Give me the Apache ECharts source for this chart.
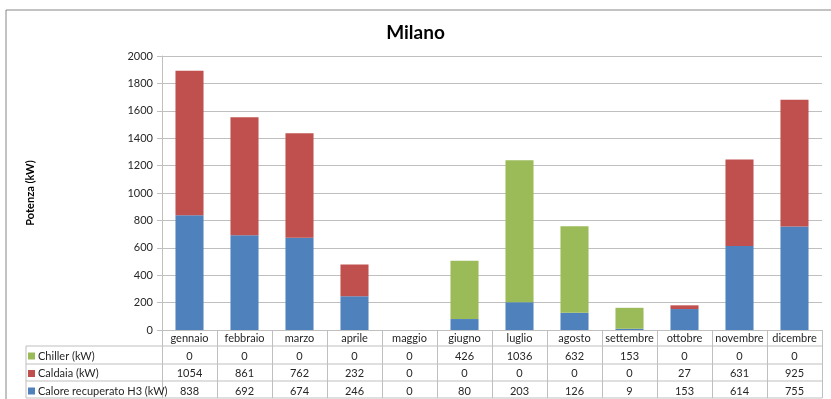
<!DOCTYPE html>
<html>
<head>
<meta charset="utf-8">
<script src="https://cdn.jsdelivr.net/npm/echarts@6/dist/echarts.min.js"></script>
<style>
  html, body { margin: 0; padding: 0; background: #fff; }
  #chart { width: 831px; height: 399px; }
</style>
</head>
<body>
<div id="chart"></div>
<script>
// Monthly power demand for Milano, stacked by source
const months = ['gennaio', 'febbraio', 'marzo', 'aprile', 'maggio', 'giugno',
                'luglio', 'agosto', 'settembre', 'ottobre', 'novembre', 'dicembre'];
const seriesNames = ['Chiller (kW)', 'Caldaia (kW)', 'Calore recuperato H3 (kW)'];
const chiller = [0, 0, 0, 0, 0, 426, 1036, 632, 153, 0, 0, 0];
const caldaia = [1054, 861, 762, 232, 0, 0, 0, 0, 0, 27, 631, 925];
const calore = [838, 692, 674, 246, 0, 80, 203, 126, 9, 153, 614, 755];
const yTicks = [0, 200, 400, 600, 800, 1000, 1200, 1400, 1600, 1800, 2000];

const FONT = 'Lato, "Open Sans", sans-serif';
const GRID = { left: 162, right: 9, top: 56, bottom: 69 };
const LINE = '#bfbfbf';
const TEXT = '#262626';
const colors = { chiller: '#9bbb59', caldaia: '#c0504d', calore: '#4f81bd' };

// Table rows below the axis: one hidden-line category axis per row
const tableRows = [chiller, caldaia, calore];
const rowOffsets = [18, 35, 53];

const xAxes = [{
  type: 'category',
  data: months,
  position: 'bottom',
  axisLine: { lineStyle: { color: LINE } },
  axisTick: { show: true, length: 68, interval: 0, lineStyle: { color: LINE } },
  axisLabel: { color: TEXT, fontFamily: FONT, fontSize: 11, margin: 3, interval: 0 }
}];
tableRows.forEach((row, i) => {
  xAxes.push({
    type: 'category',
    data: row.map(String),
    position: 'bottom',
    offset: rowOffsets[i],
    axisLine: { show: false },
    axisTick: { show: false },
    axisLabel: { color: TEXT, fontFamily: FONT, fontSize: 11, margin: 3, interval: 0 }
  });
});

// Horizontal rules of the data table and its label column
const rules = [346, 364, 381, 398].map(y => ({
  type: 'line',
  shape: { x1: 26, y1: y, x2: 831 - GRID.right, y2: y },
  style: { stroke: LINE, lineWidth: 1 }
}));

const chart = echarts.init(document.getElementById('chart'));
chart.setOption({
  animation: false,
  color: [colors.chiller, colors.caldaia, colors.calore],
  title: {
    text: 'Milano',
    left: 'center',
    top: 18,
    textStyle: { fontFamily: FONT, fontSize: 19, fontWeight: 'bold', color: '#000' }
  },
  grid: GRID,
  legend: {
    orient: 'vertical',
    left: 28,
    top: 350,
    height: 60,
    padding: 0,
    itemWidth: 7,
    itemHeight: 7,
    itemGap: 5.5,
    icon: 'rect',
    data: seriesNames,
    selectedMode: false,
    textStyle: { fontFamily: FONT, fontSize: 11, color: TEXT, lineHeight: 12, padding: [0, 0, 0, -2] }
  },
  xAxis: xAxes,
  yAxis: {
    type: 'value',
    min: yTicks[0],
    max: yTicks[yTicks.length - 1],
    interval: yTicks[1] - yTicks[0],
    name: 'Potenza (kW)',
    nameLocation: 'middle',
    nameRotate: 90,
    nameGap: 126,
    nameTextStyle: { fontFamily: FONT, fontSize: 11, fontWeight: 'bold', color: '#000' },
    axisLine: { show: true, lineStyle: { color: LINE } },
    axisTick: { show: true, length: 5, lineStyle: { color: LINE } },
    axisLabel: { color: TEXT, fontFamily: FONT, fontSize: 11, margin: 9, formatter: v => String(v) },
    splitLine: { show: true, lineStyle: { color: LINE } }
  },
  series: [
    { name: seriesNames[2], type: 'bar', stack: 'tot', data: calore, barWidth: '51%',
      itemStyle: { color: colors.calore } },
    { name: seriesNames[1], type: 'bar', stack: 'tot', data: caldaia, barWidth: '51%',
      itemStyle: { color: colors.caldaia } },
    { name: seriesNames[0], type: 'bar', stack: 'tot', data: chiller, barWidth: '51%',
      itemStyle: { color: colors.chiller } }
  ],
  graphic: [
    // outer chart frame
    { type: 'polyline', shape: { points: [[6, 420], [6, 10], [840, 10]] },
      style: { stroke: '#868686', lineWidth: 1, fill: null } },
    // label column left edge
    { type: 'line', shape: { x1: 26, y1: 346, x2: 26, y2: 398 },
      style: { stroke: LINE, lineWidth: 1 } }
  ].concat(rules)
});
</script>
</body>
</html>
